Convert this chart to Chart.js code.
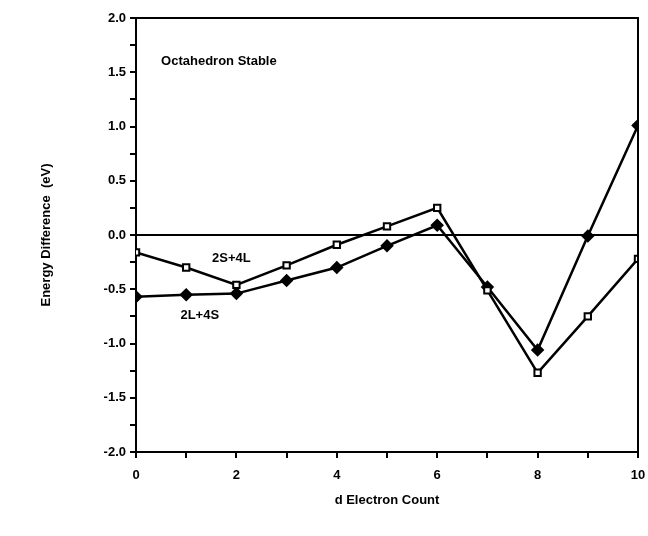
<!DOCTYPE html>
<html>
<head>
<meta charset="utf-8">
<script src="https://cdn.jsdelivr.net/npm/chart.js@4/dist/chart.umd.min.js"></script>
<style>
  html, body { margin: 0; padding: 0; background: #fff; }
  #wrap { width: 648px; height: 536px; }
</style>
</head>
<body>
<div id="wrap"><canvas id="chart" width="648" height="536"></canvas></div>
<script>
// d electron counts
const electronCounts = [0, 1, 2, 3, 4, 5, 6, 7, 8, 9, 10];
// 2S+4L (open squares)
const series2S4L = [-0.16, -0.30, -0.46, -0.28, -0.09, 0.08, 0.25, -0.51, -1.27, -0.75, -0.22];
// 2L+4S (filled diamonds)
const series2L4S = [-0.57, -0.55, -0.54, -0.42, -0.30, -0.10, 0.09, -0.48, -1.06, -0.01, 1.01];
const yTickLabels = ['-2.0', '-1.5', '-1.0', '-0.5', '0.0', '0.5', '1.0', '1.5', '2.0'];
const xTickLabels = ['0', '2', '4', '6', '8', '10'];

const FONT = 'Liberation Sans, Arial, Helvetica, sans-serif';

// labels written inside the plot, anchored at data coordinates
const annotations = [
  { text: 'Octahedron Stable', x: 0.5, y: 1.6, align: 'left' },
  { text: '2S+4L', x: 1.9, y: -0.22, align: 'center' },
  { text: '2L+4S', x: 1.27, y: -0.74, align: 'center' }
];

const framePlugin = {
  id: 'frame',
  afterDraw(chart) {
    const { ctx, chartArea: a, scales } = chart;
    ctx.save();
    ctx.strokeStyle = '#000';
    ctx.lineWidth = 2;
    ctx.beginPath();
    ctx.moveTo(a.left, a.top);
    ctx.lineTo(a.right, a.top);
    ctx.lineTo(a.right, a.bottom);
    ctx.stroke();
    ctx.fillStyle = '#000';
    ctx.font = 'bold 13px ' + FONT;
    ctx.textBaseline = 'middle';
    annotations.forEach(n => {
      ctx.textAlign = n.align;
      ctx.fillText(n.text, scales.x.getPixelForValue(n.x), scales.y.getPixelForValue(n.y));
    });
    // axis titles
    ctx.textAlign = 'center';
    ctx.fillText('d Electron Count', (a.left + a.right) / 2, 500);
    ctx.translate(46, (a.top + a.bottom) / 2);
    ctx.rotate(-Math.PI / 2);
    ctx.fillText('Energy Difference  (eV)', 0, 0);
    ctx.restore();
  }
};

new Chart(document.getElementById('chart'), {
  type: 'line',
  data: {
    labels: electronCounts,
    datasets: [
      {
        label: '2S+4L',
        data: electronCounts.map((x, i) => ({ x, y: series2S4L[i] })),
        borderColor: '#000',
        borderWidth: 2.5,
        pointStyle: 'rect',
        pointRadius: 4.5,
        pointBackgroundColor: '#fff',
        pointBorderColor: '#000',
        pointBorderWidth: 2,
        tension: 0
      },
      {
        label: '2L+4S',
        data: electronCounts.map((x, i) => ({ x, y: series2L4S[i] })),
        borderColor: '#000',
        borderWidth: 2.5,
        pointStyle: 'rectRot',
        pointRadius: 5,
        pointBackgroundColor: '#000',
        pointBorderColor: '#000',
        tension: 0
      }
    ]
  },
  options: {
    responsive: false,
    animation: false,
    layout: { padding: { top: 18, right: 10, left: 0, bottom: 0 } },
    plugins: { legend: { display: false }, tooltip: { enabled: false } },
    scales: {
      x: {
        type: 'linear',
        min: 0,
        max: 10,
        afterFit(scale) {
          scale.height = 84;
          scale.paddingLeft = 0;
          scale.paddingRight = 0;
        },
        afterBuildTicks(scale) {
          scale.ticks = electronCounts.map(v => ({ value: v }));
        },
        border: { color: '#000', width: 2 },
        grid: { drawOnChartArea: false, color: '#000', tickColor: '#000', tickLength: 6, lineWidth: 2 },
        ticks: {
          color: '#000',
          padding: 10,
          maxRotation: 0,
          autoSkip: false,
          font: { family: FONT, size: 13, weight: 'bold' },
          callback: v => xTickLabels.includes(String(v)) ? String(v) : ''
        }
      },
      y: {
        min: -2,
        max: 2,
        afterFit(scale) { scale.width = 136; },
        afterBuildTicks(scale) {
          const t = [];
          for (let i = 0; i <= 16; i++) t.push({ value: -2 + i * 0.25 });
          scale.ticks = t;
        },
        border: { color: '#000', width: 2 },
        grid: {
          drawOnChartArea: true,
          color: c => (c.tick && Math.abs(c.tick.value) < 1e-9) ? '#000' : 'rgba(0,0,0,0)',
          lineWidth: 2,
          tickColor: '#000',
          tickLength: 6
        },
        ticks: {
          color: '#000',
          padding: 4,
          autoSkip: false,
          font: { family: FONT, size: 13, weight: 'bold' },
          callback: v => {
            const s = (Math.round(v * 100) / 100).toFixed(1);
            return (Math.abs(v * 2 - Math.round(v * 2)) < 1e-9 && yTickLabels.includes(s)) ? s : '';
          }
        }
      }
    }
  },
  plugins: [framePlugin]
});
</script>
</body>
</html>
